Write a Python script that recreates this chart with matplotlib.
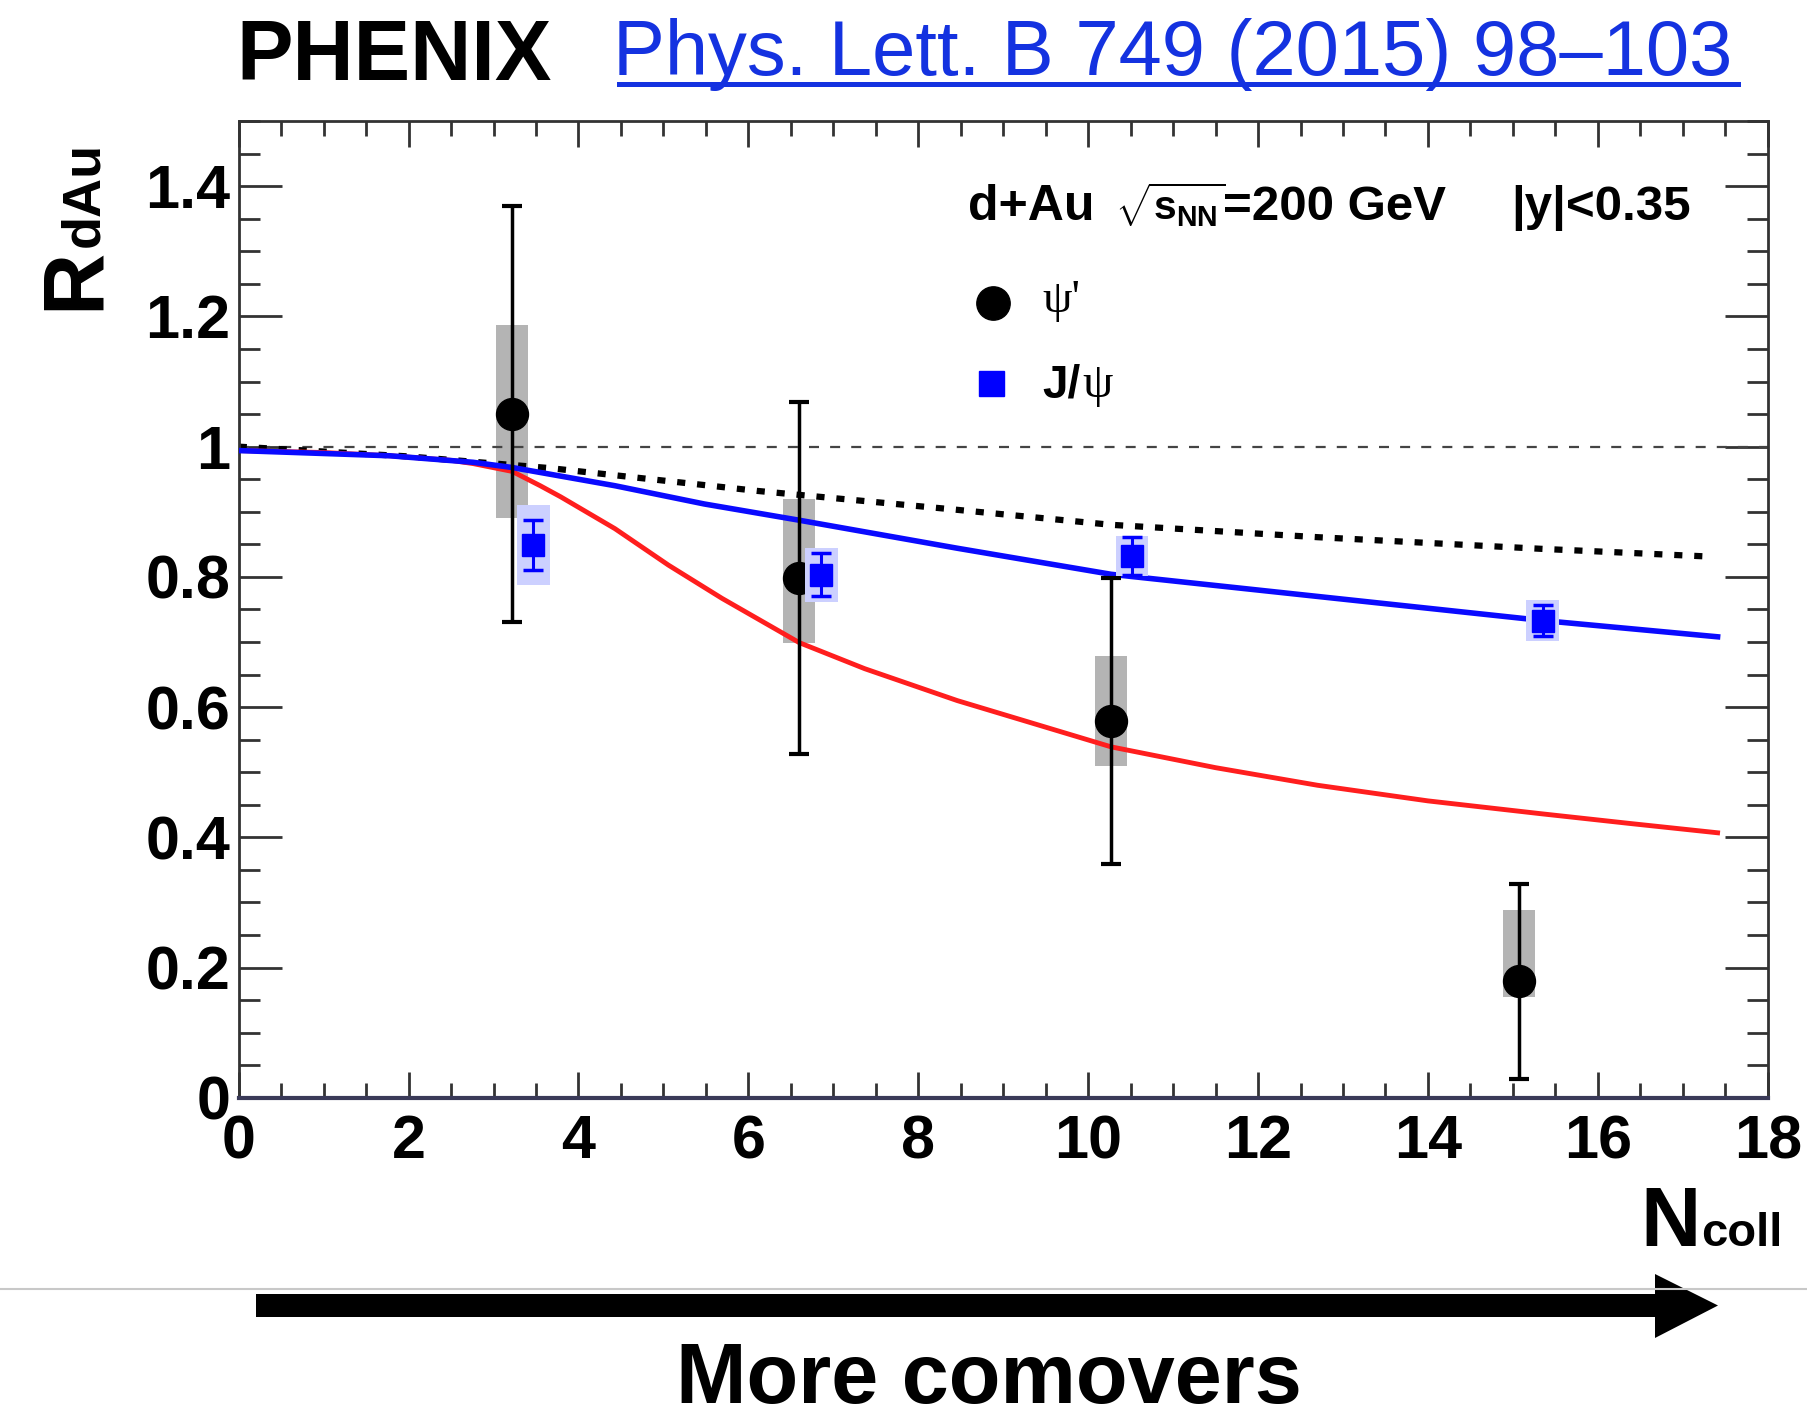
import matplotlib
matplotlib.use("Agg")
import matplotlib.pyplot as plt
from matplotlib.patches import Rectangle, Polygon
from matplotlib.lines import Line2D
from matplotlib.ticker import MultipleLocator, FuncFormatter

# ---- psi(2S) measurement ----
psi2_ncoll = [3.22, 6.60, 10.27, 15.07]
psi2_rdau = [1.050, 0.798, 0.579, 0.179]
psi2_stat = [0.320, 0.270, 0.220, 0.150]
psi2_sys_lo = [0.159, 0.100, 0.069, 0.024]
psi2_sys_hi = [0.137, 0.122, 0.100, 0.109]

# ---- J/psi measurement ----
jpsi_ncoll = [3.47, 6.86, 10.52, 15.35]
jpsi_rdau = [0.849, 0.803, 0.832, 0.733]
jpsi_stat = [0.038, 0.033, 0.029, 0.024]
jpsi_sys = [0.062, 0.041, 0.031, 0.032]

# ---- comover model curves ----
jpsi_model_x = [0.0, 1.78, 2.76, 3.22, 4.43, 5.48, 6.60, 8.46, 10.27, 12.70, 15.35, 17.41]
jpsi_model_y = [0.994, 0.986, 0.976, 0.968, 0.940, 0.912, 0.887, 0.844, 0.804, 0.770, 0.733, 0.708]

psi2_model_x = [0.0, 1.0, 1.78, 2.5, 2.76, 3.22, 3.55, 3.79, 4.43, 5.06, 5.69,
                6.60, 7.37, 8.46, 10.27, 11.5, 12.70, 14.0, 15.35, 16.4, 17.41]
psi2_model_y = [0.994, 0.991, 0.986, 0.979, 0.974, 0.962, 0.940, 0.923, 0.874, 0.818, 0.767,
                0.699, 0.659, 0.610, 0.539, 0.507, 0.480, 0.456, 0.436, 0.421, 0.407]

# nuclear absorption / shadowing baseline (dotted)
cnm_x = [0.0, 2.0, 3.67, 6.11, 8.38, 10.27, 12.70, 15.35, 17.35]
cnm_y = [1.000, 0.985, 0.967, 0.932, 0.904, 0.880, 0.861, 0.843, 0.831]

x_ticks = [0, 2, 4, 6, 8, 10, 12, 14, 16, 18]
y_ticks = [0, 0.2, 0.4, 0.6, 0.8, 1.0, 1.2, 1.4]

BOX_HW = 0.19
W, H = 1808, 1418


def fx(px):
    return px / W


def fy(py):
    return 1 - py / H


plt.rcParams['font.family'] = ['Liberation Sans', 'DejaVu Sans']
plt.rcParams['font.weight'] = 'bold'
plt.rcParams['mathtext.fontset'] = 'custom'
plt.rcParams['mathtext.rm'] = 'Liberation Sans:bold'
plt.rcParams['mathtext.it'] = 'Liberation Sans:bold'
plt.rcParams['mathtext.bf'] = 'Liberation Sans:bold'
plt.rcParams['mathtext.sf'] = 'Liberation Sans:bold'

fig = plt.figure(figsize=(W / 100, H / 100), dpi=100)
fig.patch.set_facecolor('white')
ax = fig.add_axes([238.7 / W, 1 - 1097.8 / H, 1529 / W, 976.7 / H])

ax.set_xlim(0, 18)
ax.set_ylim(0, 1.5)

# systematic boxes for psi(2S)
for x, y, lo, hi in zip(psi2_ncoll, psi2_rdau, psi2_sys_lo, psi2_sys_hi):
    ax.add_patch(Rectangle((x - BOX_HW, y - lo), 2 * BOX_HW, lo + hi,
                           facecolor='#b4b4b4', edgecolor='none', zorder=1))

# reference line and model curves
ax.axhline(1.0, color='#444444', lw=1.6, dashes=(4.5, 5), zorder=2)
ax.plot(cnm_x, cnm_y, color='black', lw=4.5, dashes=(1.3, 1.9), zorder=2)
ax.plot(psi2_model_x, psi2_model_y, color='#ff1e1e', lw=3.5, zorder=3,
        solid_joinstyle='round')
ax.plot(jpsi_model_x, jpsi_model_y, color='#0a0aff', lw=4.0, zorder=4,
        solid_joinstyle='round')

# psi(2S) points
ax.errorbar(psi2_ncoll, psi2_rdau, yerr=psi2_stat, fmt='o', color='black',
            ms=23, elinewidth=2.5, capsize=7.5, capthick=3, zorder=5)

# J/psi systematic boxes and points
for x, y, s in zip(jpsi_ncoll, jpsi_rdau, jpsi_sys):
    ax.add_patch(Rectangle((x - BOX_HW, y - s), 2 * BOX_HW, 2 * s,
                           facecolor='#ccd0ff', edgecolor='none', zorder=6))
ax.errorbar(jpsi_ncoll, jpsi_rdau, yerr=jpsi_stat, fmt='s', color='#0000ff',
            ms=16, elinewidth=2.2, capsize=7, capthick=2.5, zorder=7)

# axes styling
ax.xaxis.set_minor_locator(MultipleLocator(0.5))
ax.yaxis.set_minor_locator(MultipleLocator(0.05))
ax.set_xticks(x_ticks)
ax.set_yticks(y_ticks)
ax.yaxis.set_major_formatter(FuncFormatter(lambda v, p: f'{round(v, 2):g}'))
ax.xaxis.set_major_formatter(FuncFormatter(lambda v, p: f'{round(v, 2):g}'))

ax.tick_params(axis='both', which='both', direction='in', top=True, right=True,
               color='#333333', width=2, labelsize=44)
ax.tick_params(axis='y', which='major', length=31, pad=6)
ax.tick_params(axis='y', which='minor', length=15)
ax.tick_params(axis='x', which='major', length=18.5, pad=12)
ax.tick_params(axis='x', which='minor', length=10.5)
for lab in ax.get_xticklabels() + ax.get_yticklabels():
    lab.set_fontweight('bold')

for s in ax.spines.values():
    s.set_linewidth(2)
    s.set_color('#333333')
ax.spines['bottom'].set_linewidth(3)
ax.spines['bottom'].set_color('#3a3a58')

# in-plot annotations
ann_y = 0.8987
ax.text(0.4767, ann_y, 'd+Au', fontsize=36, ha='left', va='baseline',
        transform=ax.transAxes)
ax.text(0.5730, ann_y, r'$\sqrt{s_{NN}}$', fontsize=29.5, ha='left',
        va='baseline', transform=ax.transAxes)
ax.text(0.6440, ann_y, '=200 GeV', fontsize=35.5, ha='left', va='baseline',
        transform=ax.transAxes)
ax.text(0.832, ann_y, '|y|<0.35', fontsize=35.5, ha='left', va='baseline',
        transform=ax.transAxes)

ax.plot([0.4931], [0.8141], 'o', ms=24, color='black', transform=ax.transAxes,
        clip_on=False)
ax.plot([0.4920], [0.7318], 's', ms=18, color='#0000ff', transform=ax.transAxes,
        clip_on=False)
ax.text(0.5254, 0.8158, "ψ'", family=['Liberation Serif', 'DejaVu Serif'],
        fontweight='normal', fontsize=34, ha='left', va='center',
        transform=ax.transAxes)
ax.text(0.5254, 0.7175, 'J/', fontsize=33, ha='left', va='baseline',
        transform=ax.transAxes)
ax.text(0.552, 0.7175, 'ψ', family=['Liberation Serif', 'DejaVu Serif'],
        fontweight='normal', fontsize=35, ha='left', va='baseline',
        transform=ax.transAxes)

# axis titles
fig.text(fx(98), fy(310), 'R', rotation=90, rotation_mode='anchor',
         ha='left', va='baseline', fontsize=62)
fig.text(fx(98), fy(247), 'dAu', rotation=90, rotation_mode='anchor',
         ha='left', va='baseline', fontsize=39)
fig.text(fx(1640), fy(1246), 'N', fontsize=60, ha='left', va='baseline')
fig.text(fx(1701), fy(1246), 'coll', fontsize=34, ha='left', va='baseline')

# header
fig.text(fx(236), fy(80), 'PHENIX', fontsize=61, ha='left', va='baseline')
link_color = '#1432e0'
fig.text(fx(613), fy(75), 'Phys. Lett. B 749 (2015) 98–103', fontsize=56,
         fontweight='normal', color=link_color, ha='left', va='baseline')
fig.add_artist(Line2D([fx(619), fx(1738)], [fy(83.5), fy(83.5)],
                      color=link_color, lw=3.6))

# footer: separator, arrow and caption
fig.add_artist(Line2D([0, 1], [fy(1289), fy(1289)], color='#c8c8c8', lw=1.5))
arrow_px = [(256, 1294), (1655, 1294), (1655, 1274), (1718, 1305.5),
            (1655, 1338), (1655, 1317), (256, 1317)]
fig.add_artist(Polygon([(fx(a), fy(b)) for a, b in arrow_px], closed=True,
                       facecolor='black', edgecolor='none',
                       transform=fig.transFigure))
fig.text(fx(989), fy(1403), 'More comovers', fontsize=61, ha='center',
         va='baseline')

fig.savefig('out.png', dpi=100, facecolor='white')
